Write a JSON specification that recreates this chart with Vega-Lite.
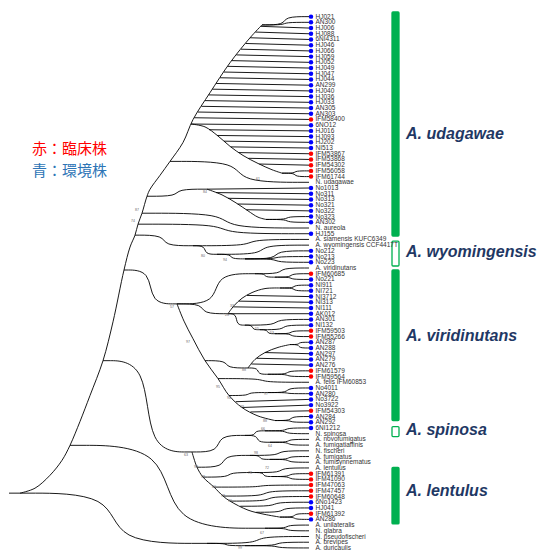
{
"$schema": "https://vega.github.io/schema/vega-lite/v6.json",
"width": 539, "height": 552,
"autosize": {"type": "fit", "contains": "padding"},
"padding": 0,
"background": "white",
"config": {"view": {"stroke": null}},
"datasets": {
"edges": [
{"e":1,"xs":[262,284.5,284.5,309],"ys":[2.45,2.45,1,1]},
{"e":2,"xs":[262,284.5,284.5,309],"ys":[2.45,2.45,2,2]},
{"e":3,"xs":[260.7,309],"ys":[2.7,3]},
{"e":4,"xs":[255.4,309],"ys":[3.7,4]},
{"e":5,"xs":[250,309],"ys":[4.7,5]},
{"e":6,"xs":[245.5,309],"ys":[5.7,6]},
{"e":7,"xs":[240.9,309],"ys":[6.7,7]},
{"e":8,"xs":[236.3,309],"ys":[7.7,8]},
{"e":9,"xs":[231.7,309],"ys":[8.7,9]},
{"e":10,"xs":[227.6,309],"ys":[9.7,10]},
{"e":11,"xs":[223.8,309],"ys":[10.7,11]},
{"e":12,"xs":[220,309],"ys":[11.7,12]},
{"e":13,"xs":[216.1,309],"ys":[12.7,13]},
{"e":14,"xs":[212.3,309],"ys":[13.7,14]},
{"e":15,"xs":[208.6,309],"ys":[14.7,15]},
{"e":16,"xs":[205,309],"ys":[15.7,16]},
{"e":17,"xs":[201.4,309],"ys":[16.7,17]},
{"e":18,"xs":[197.8,309],"ys":[17.7,18]},
{"e":19,"xs":[194.2,309],"ys":[18.7,19]},
{"e":20,"xs":[191,309],"ys":[19.8,20]},
{"e":21,"xs":[209,309],"ys":[20.8,21]},
{"e":22,"xs":[217.2,309],"ys":[21.8,22]},
{"e":23,"xs":[224,309],"ys":[22.8,23]},
{"e":24,"xs":[230.8,309],"ys":[23.8,24]},
{"e":25,"xs":[238.9,309],"ys":[24.8,25]},
{"e":26,"xs":[248.4,309],"ys":[25.8,26]},
{"e":27,"xs":[259.3,309],"ys":[26.8,27]},
{"e":28,"xs":[282,295,295,309],"ys":[28.4,28.4,28,28]},
{"e":29,"xs":[282,295,295,309],"ys":[28.4,28.4,29,29]},
{"e":30,"xs":[170,238.5,238.5,309],"ys":[26.34,26.34,30,30]},
{"e":31,"xs":[147,177,177,207],"ys":[32.44,32.44,31.2,31.2]},
{"e":32,"xs":[207,309],"ys":[31.2,31]},
{"e":33,"xs":[216,309],"ys":[31.8,32]},
{"e":34,"xs":[228,309],"ys":[32.8,33]},
{"e":35,"xs":[237.7,309],"ys":[33.8,34]},
{"e":36,"xs":[246.3,309],"ys":[34.8,35]},
{"e":37,"xs":[266,287,287,309],"ys":[36.5,36.5,36,36]},
{"e":38,"xs":[266,287,287,309],"ys":[36.5,36.5,37,37]},
{"e":39,"xs":[142,225,225,309],"ys":[35.41,35.41,38,38]},
{"e":40,"xs":[138,223,223,309],"ys":[37.33,37.33,39,39]},
{"e":41,"xs":[135,164,164,193],"ys":[39.25,39.25,41.1,41.1]},
{"e":42,"xs":[193,250,250,309],"ys":[41.1,41.1,40,40]},
{"e":43,"xs":[193,205,205,217],"ys":[41.1,41.1,42.6,42.6]},
{"e":44,"xs":[217,262,262,309],"ys":[42.6,42.6,41,41]},
{"e":45,"xs":[217,231,231,245],"ys":[42.6,42.6,43.4,43.4]},
{"e":46,"xs":[245,276,276,309],"ys":[43.4,43.4,42,42]},
{"e":47,"xs":[245,276,276,309],"ys":[43.4,43.4,43,43]},
{"e":48,"xs":[245,276,276,309],"ys":[43.4,43.4,44,44]},
{"e":49,"xs":[124,150.5,150.5,177],"ys":[45.35,45.35,51.28,51.28]},
{"e":50,"xs":[177,216,216,255],"ys":[51.28,51.28,46,46]},
{"e":51,"xs":[255,281,281,309],"ys":[46,46,45,45]},
{"e":52,"xs":[255,265,265,275],"ys":[46,46,46.6,46.6]},
{"e":53,"xs":[275,291,291,309],"ys":[46.6,46.6,46,46]},
{"e":54,"xs":[275,291,291,309],"ys":[46.6,46.6,47,47]},
{"e":55,"xs":[177,202.5,202.5,228],"ys":[51.28,51.28,53,53]},
{"e":56,"xs":[280,294,294,309],"ys":[48.5,48.5,48,48]},
{"e":57,"xs":[280,294,294,309],"ys":[48.5,48.5,49,49]},
{"e":58,"xs":[247,309],"ys":[49.8,50]},
{"e":59,"xs":[238.9,309],"ys":[50.8,51]},
{"e":60,"xs":[233.1,309],"ys":[51.8,52]},
{"e":61,"xs":[228,309],"ys":[53,53]},
{"e":62,"xs":[228,236.5,236.5,245],"ys":[53,53,55,55]},
{"e":63,"xs":[245,276,276,309],"ys":[55,55,54,54]},
{"e":64,"xs":[245,252.5,252.5,260],"ys":[55,55,55.8,55.8]},
{"e":65,"xs":[260,283.5,283.5,309],"ys":[55.8,55.8,55,55]},
{"e":66,"xs":[260,267.5,267.5,275],"ys":[55.8,55.8,56.5,56.5]},
{"e":67,"xs":[275,291,291,309],"ys":[56.5,56.5,56,56]},
{"e":68,"xs":[275,291,291,309],"ys":[56.5,56.5,57,57]},
{"e":69,"xs":[205,226.5,226.5,248],"ys":[61.22,61.22,62.5,62.5]},
{"e":70,"xs":[290,299,299,309],"ys":[58.4,58.4,58,58]},
{"e":71,"xs":[290,299,299,309],"ys":[58.4,58.4,59,59]},
{"e":72,"xs":[265,309],"ys":[59.8,60]},
{"e":73,"xs":[256.7,309],"ys":[60.8,61]},
{"e":74,"xs":[251.3,309],"ys":[61.8,62]},
{"e":75,"xs":[248,258,258,268],"ys":[62.5,62.5,63.6,63.6]},
{"e":76,"xs":[268,287.5,287.5,309],"ys":[63.6,63.6,63,63]},
{"e":77,"xs":[268,287.5,287.5,309],"ys":[63.6,63.6,64,64]},
{"e":78,"xs":[218,262.5,262.5,309],"ys":[64.36,64.36,65,65]},
{"e":79,"xs":[229,248.5,248.5,268],"ys":[67.32,67.32,66.8,66.8]},
{"e":80,"xs":[268,287.5,287.5,309],"ys":[66.8,66.8,66,66]},
{"e":81,"xs":[268,287.5,287.5,309],"ys":[66.8,66.8,67,67]},
{"e":82,"xs":[235.7,309],"ys":[68.4,68]},
{"e":83,"xs":[242,309],"ys":[69.42,69]},
{"e":84,"xs":[250.4,309],"ys":[70.2,70]},
{"e":85,"xs":[275,291,291,309],"ys":[71.7,71.7,71,71]},
{"e":86,"xs":[275,291,291,309],"ys":[71.7,71.7,72,72]},
{"e":87,"xs":[103,147.5,147.5,192],"ys":[61.22,61.22,77.2,77.2]},
{"e":88,"xs":[192,218.5,218.5,245],"ys":[77.2,77.2,74.3,74.3]},
{"e":89,"xs":[245,255,255,265],"ys":[74.3,74.3,73.5,73.5]},
{"e":90,"xs":[265,286,286,309],"ys":[73.5,73.5,73,73]},
{"e":91,"xs":[265,286,286,309],"ys":[73.5,73.5,74,74]},
{"e":92,"xs":[245,257.5,257.5,270],"ys":[74.3,74.3,75.5,75.5]},
{"e":93,"xs":[270,288.5,288.5,309],"ys":[75.5,75.5,75,75]},
{"e":94,"xs":[270,288.5,288.5,309],"ys":[75.5,75.5,76,76]},
{"e":95,"xs":[197,223.5,223.5,250],"ys":[79.87,79.87,77.8,77.8]},
{"e":96,"xs":[250,279,279,309],"ys":[77.8,77.8,77,77]},
{"e":97,"xs":[250,260,260,270],"ys":[77.8,77.8,78.5,78.5]},
{"e":98,"xs":[270,288.5,288.5,309],"ys":[78.5,78.5,78,78]},
{"e":99,"xs":[270,288.5,288.5,309],"ys":[78.5,78.5,79,79]},
{"e":100,"xs":[203,229,229,255],"ys":[81.6,81.6,80.8,80.8]},
{"e":101,"xs":[255,281,281,309],"ys":[80.8,80.8,80,80]},
{"e":102,"xs":[255,263.5,263.5,272],"ys":[80.8,80.8,81.5,81.5]},
{"e":103,"xs":[272,289.5,289.5,309],"ys":[81.5,81.5,81,81]},
{"e":104,"xs":[272,289.5,289.5,309],"ys":[81.5,81.5,82,82]},
{"e":105,"xs":[214,260.5,260.5,309],"ys":[83.35,83.35,83,83]},
{"e":106,"xs":[223,265,265,309],"ys":[84.92,84.92,84,84]},
{"e":107,"xs":[230,268.5,268.5,309],"ys":[85.8,85.8,85,85]},
{"e":108,"xs":[240.3,274.5,274.5,309],"ys":[86.7,86.7,86,86]},
{"e":109,"xs":[256.2,282.5,282.5,309],"ys":[87.75,87.75,87,87]},
{"e":110,"xs":[280,294.5,294.5,309],"ys":[88.6,88.6,88,88]},
{"e":111,"xs":[280,294.5,294.5,309],"ys":[88.6,88.6,89,89]},
{"e":112,"xs":[70,167.5,167.5,265],"ys":[76.04,76.04,90.55,90.55]},
{"e":113,"xs":[265,287,287,309],"ys":[90.55,90.55,90,90]},
{"e":114,"xs":[265,287,287,309],"ys":[90.55,90.55,91,91]},
{"e":115,"xs":[20,113.5,113.5,207],"ys":[84.41,84.41,93.2,93.2]},
{"e":116,"xs":[207,258,258,309],"ys":[93.2,93.2,92,92]},
{"e":117,"xs":[207,226,226,245],"ys":[93.2,93.2,93.6,93.6]},
{"e":118,"xs":[245,277,277,309],"ys":[93.6,93.6,93,93]},
{"e":119,"xs":[245,277,277,309],"ys":[93.6,93.6,94,94]},
{"e":120,"xs":[9,20],"ys":[84.41,84.41]}
],
"arcs": [
{"a":"main","xs":[20,35,50,62,70,80,90,103,113,124,130,135,138,142,147,150,160,170,183,193,210,230,250,262],"ys":[84.41,83.54,81.28,78.66,76.04,71.86,67.32,61.22,54.42,45.35,41.34,39.25,37.33,35.41,32.44,31.22,28.78,26.34,23.03,19.02,14.31,9.07,4.71,2.45]},
{"a":"s1","xs":[191,205,218,230,243,258,272,282],"ys":[19.8,20.3,21.9,23.7,25.3,26.7,27.8,28.4]},
{"a":"s2","xs":[207,222,236,248,258,266],"ys":[31.2,32.2,33.6,35.0,36.1,36.5]},
{"a":"va2","xs":[228,234,242,252,265,280],"ys":[53.0,51.6,50.3,49.3,48.6,48.5]},
{"a":"vc","xs":[248,255,265,278,290],"ys":[62.5,61.0,59.8,58.9,58.4]},
{"a":"varc","xs":[177,184,193,205,218,229,242,258,275],"ys":[51.28,54.3,57.38,61.22,64.36,67.32,69.42,70.9,71.7]},
{"a":"farc","xs":[192,197,203,214,223,230,248,264,280],"ys":[77.2,79.87,81.6,83.35,84.92,85.8,87.38,88.1,88.6]}
],
"leaves": [
{"y":1,"n":"HJ021","t":"e"},{"y":2,"n":"AN300","t":"e"},{"y":3,"n":"HJ006","t":"e"},{"y":4,"n":"HJ088","t":"e"},
{"y":5,"n":"6NI4311","t":"e"},{"y":6,"n":"HJ046","t":"e"},{"y":7,"n":"HJ066","t":"e"},{"y":8,"n":"HJ059","t":"e"},
{"y":9,"n":"HJ052","t":"e"},{"y":10,"n":"HJ049","t":"e"},{"y":11,"n":"HJ047","t":"e"},{"y":12,"n":"HJ044","t":"e"},
{"y":13,"n":"AN299","t":"e"},{"y":14,"n":"HJ040","t":"e"},{"y":15,"n":"HJ036","t":"e"},{"y":16,"n":"HJ033","t":"e"},
{"y":17,"n":"AN305","t":"e"},{"y":18,"n":"AN303","t":"e"},{"y":19,"n":"IFM58400","t":"c"},{"y":20,"n":"6NO12","t":"e"},
{"y":21,"n":"HJ016","t":"e"},{"y":22,"n":"HJ093","t":"e"},{"y":23,"n":"HJ202","t":"e"},{"y":24,"n":"NI513","t":"e"},
{"y":25,"n":"IFM53867","t":"c"},{"y":26,"n":"IFM53868","t":"c"},{"y":27,"n":"IFM54302","t":"c"},{"y":28,"n":"IFM56058","t":"c"},
{"y":29,"n":"IFM61744","t":"c"},{"y":30,"n":"N. udagawae","t":"r"},{"y":31,"n":"No1013","t":"e"},{"y":32,"n":"No311","t":"e"},
{"y":33,"n":"No313","t":"e"},{"y":34,"n":"No321","t":"e"},{"y":35,"n":"No322","t":"e"},{"y":36,"n":"No323","t":"e"},
{"y":37,"n":"AN302","t":"e"},{"y":38,"n":"N. aureola","t":"r"},{"y":39,"n":"HJ155","t":"e"},{"y":40,"n":"A. siamensis KUFC6349","t":"r"},
{"y":41,"n":"A. wyomingensis CCF4417T","t":"r"},{"y":42,"n":"No212","t":"e"},{"y":43,"n":"No213","t":"e"},{"y":44,"n":"No223","t":"e"},
{"y":45,"n":"A. viridinutans","t":"r"},{"y":46,"n":"IFM60685","t":"c"},{"y":47,"n":"No221","t":"e"},{"y":48,"n":"NI911","t":"e"},
{"y":49,"n":"NI721","t":"e"},{"y":50,"n":"NI3712","t":"e"},{"y":51,"n":"NI313","t":"e"},{"y":52,"n":"NI111","t":"e"},
{"y":53,"n":"AK012","t":"e"},{"y":54,"n":"AN301","t":"e"},{"y":55,"n":"NI132","t":"e"},{"y":56,"n":"IFM59503","t":"c"},
{"y":57,"n":"IFM55266","t":"c"},{"y":58,"n":"AN287","t":"e"},{"y":59,"n":"AN288","t":"e"},{"y":60,"n":"AN297","t":"e"},
{"y":61,"n":"AN279","t":"e"},{"y":62,"n":"AN276","t":"e"},{"y":63,"n":"IFM61579","t":"c"},{"y":64,"n":"IFM59564","t":"c"},
{"y":65,"n":"A. felis IFM60853","t":"r"},{"y":66,"n":"No4011","t":"e"},{"y":67,"n":"AN280","t":"e"},{"y":68,"n":"No3722","t":"e"},
{"y":69,"n":"No3922","t":"e"},{"y":70,"n":"IFM54303","t":"c"},{"y":71,"n":"AN284","t":"e"},{"y":72,"n":"AN292","t":"e"},
{"y":73,"n":"6NI1212","t":"e"},{"y":74,"n":"N. spinosa","t":"r"},{"y":75,"n":"A. novofumigatus","t":"r"},{"y":76,"n":"A. fumigatiaffinis","t":"r"},
{"y":77,"n":"N. fischeri","t":"r"},{"y":78,"n":"A. fumigatus","t":"r"},{"y":79,"n":"A. fumisynnematus","t":"r"},{"y":80,"n":"A. lentulus","t":"r"},
{"y":81,"n":"IFM61391","t":"c"},{"y":82,"n":"IFM41090","t":"c"},{"y":83,"n":"IFM47063","t":"c"},{"y":84,"n":"IFM47457","t":"c"},
{"y":85,"n":"IFM60648","t":"c"},{"y":86,"n":"6No1423","t":"e"},{"y":87,"n":"HJ041","t":"e"},{"y":88,"n":"IFM61392","t":"c"},
{"y":89,"n":"AN286","t":"e"},{"y":90,"n":"A. unilateralis","t":"r"},{"y":91,"n":"N. glabra","t":"r"},{"y":92,"n":"N. pseudofischeri","t":"r"},
{"y":93,"n":"A. brevipes","t":"r"},{"y":94,"n":"A. duricaulis","t":"r"}
],
"clades": [
{"name":"A. udagawae","y1":0.18,"y2":39.4,"ym":21.6,"k":"s"},
{"name":"A. wyomingensis","y1":40.3,"y2":44.65,"ym":42.2,"k":"h"},
{"name":"A. viridinutans","y1":45.35,"y2":71.7,"ym":56.9,"k":"s"},
{"name":"A. spinosa","y1":72.75,"y2":74.5,"ym":73.4,"k":"h"},
{"name":"A. lentulus","y1":79.9,"y2":89.8,"ym":84.1,"k":"s"}
],
"boots": [
{"b":"87","x":137,"y":34.9},{"b":"74","x":133,"y":36.8},{"b":"61","x":258,"y":29.5},{"b":"84","x":205,"y":31.75},
{"b":"80","x":203,"y":42.9},{"b":"94","x":225,"y":43.6},{"b":"57","x":172,"y":51.8},{"b":"33","x":232,"y":51.6},
{"b":"28","x":227,"y":53.2},{"b":"55","x":257,"y":55.6},{"b":"53","x":272,"y":56.3},{"b":"97","x":188,"y":57.9},
{"b":"88","x":244,"y":62.8},{"b":"95","x":218,"y":65.75},{"b":"94","x":229,"y":67.7},{"b":"99","x":242,"y":69.4},
{"b":"97","x":266,"y":67.0},{"b":"88","x":265,"y":71.7},{"b":"63","x":186,"y":77.8},{"b":"66","x":263,"y":73.1},
{"b":"64","x":270,"y":76.2},{"b":"98","x":256,"y":77.3},{"b":"72","x":267,"y":80.05},{"b":"78","x":250,"y":80.9},
{"b":"98","x":196,"y":79.9},{"b":"99","x":203,"y":81.6},{"b":"80","x":214,"y":83.35},{"b":"78","x":223,"y":84.9},
{"b":"76","x":230,"y":85.8},{"b":"67","x":262,"y":91.4},{"b":"99","x":240,"y":94.0}
]
},
"layer": [
{
"data": {"name": "clades"},
"mark": {"type": "rect", "stroke": "#00b050", "strokeWidth": 1.3, "cornerRadius": 1},
"encoding": {
"x": {"datum": 392, "type": "quantitative", "scale": {"domain": [0, 539], "nice": false, "zero": false}, "axis": null},
"x2": {"datum": 399},
"y": {"field": "y1", "type": "quantitative", "scale": {"domain": [-1.91, 94.36], "reverse": true, "nice": false, "zero": false}, "axis": null},
"y2": {"field": "y2"},
"fill": {"field": "k", "type": "nominal", "scale": {"domain": ["s", "h"], "range": ["#00b050", "#ffffff"]}, "legend": null}
}
},
{
"data": {"name": "arcs"},
"transform": [{"flatten": ["xs", "ys"], "as": ["x", "y"]}],
"mark": {"type": "line", "interpolate": "catmull-rom", "color": "#000000", "strokeWidth": 0.9},
"encoding": {
"x": {"field": "x", "type": "quantitative", "scale": {"domain": [0, 539], "nice": false, "zero": false}, "axis": null},
"y": {"field": "y", "type": "quantitative", "scale": {"domain": [-1.91, 94.36], "reverse": true, "nice": false, "zero": false}, "axis": null},
"detail": {"field": "a"},
"order": {"value": null}
}
},
{
"data": {"name": "edges"},
"transform": [{"flatten": ["xs", "ys"], "as": ["x", "y"]}],
"mark": {"type": "line", "interpolate": "basis", "color": "#000000", "strokeWidth": 0.9},
"encoding": {
"x": {"field": "x", "type": "quantitative", "scale": {"domain": [0, 539], "nice": false, "zero": false}, "axis": null},
"y": {"field": "y", "type": "quantitative", "scale": {"domain": [-1.91, 94.36], "reverse": true, "nice": false, "zero": false}, "axis": null},
"detail": {"field": "e"},
"order": {"value": null}
}
},
{
"data": {"name": "leaves"},
"transform": [{"filter": "datum.t !== 'r'"}],
"mark": {"type": "point", "filled": true, "shape": "circle", "size": 20, "opacity": 1},
"encoding": {
"x": {"datum": 311, "type": "quantitative", "scale": {"domain": [0, 539], "nice": false, "zero": false}, "axis": null},
"y": {"field": "y", "type": "quantitative", "scale": {"domain": [-1.91, 94.36], "reverse": true, "nice": false, "zero": false}, "axis": null},
"color": {"field": "t", "type": "nominal", "scale": {"domain": ["c", "e"], "range": ["#ff0000", "#0000ff"]}, "legend": null}
}
},
{
"data": {"name": "leaves"},
"mark": {"type": "text", "align": "left", "baseline": "middle", "fontSize": 6.5, "font": "Liberation Sans", "color": "#333333"},
"encoding": {
"x": {"datum": 315.5, "type": "quantitative", "scale": {"domain": [0, 539], "nice": false, "zero": false}, "axis": null},
"y": {"field": "y", "type": "quantitative", "scale": {"domain": [-1.91, 94.36], "reverse": true, "nice": false, "zero": false}, "axis": null},
"text": {"field": "n"}
}
},
{
"data": {"name": "boots"},
"mark": {"type": "text", "align": "center", "baseline": "middle", "fontSize": 3.5, "font": "Liberation Sans", "color": "#666666"},
"encoding": {
"x": {"field": "x", "type": "quantitative", "scale": {"domain": [0, 539], "nice": false, "zero": false}, "axis": null},
"y": {"field": "y", "type": "quantitative", "scale": {"domain": [-1.91, 94.36], "reverse": true, "nice": false, "zero": false}, "axis": null},
"text": {"field": "b"}
}
},
{
"data": {"name": "clades"},
"mark": {"type": "text", "align": "left", "baseline": "middle", "fontSize": 16, "font": "Liberation Sans", "fontWeight": "bold", "fontStyle": "italic", "color": "#1f3864"},
"encoding": {
"x": {"datum": 406, "type": "quantitative", "scale": {"domain": [0, 539], "nice": false, "zero": false}, "axis": null},
"y": {"field": "ym", "type": "quantitative", "scale": {"domain": [-1.91, 94.36], "reverse": true, "nice": false, "zero": false}, "axis": null},
"text": {"field": "name"}
}
},
{
"data": {"values": [{"label": "赤：臨床株"}]},
"mark": {"type": "text", "align": "left", "baseline": "middle", "fontSize": 15, "font": "Noto Sans CJK JP", "color": "#ff0000"},
"encoding": {
"x": {"datum": 32, "type": "quantitative", "scale": {"domain": [0, 539], "nice": false, "zero": false}, "axis": null},
"y": {"datum": 24.2, "type": "quantitative", "scale": {"domain": [-1.91, 94.36], "reverse": true, "nice": false, "zero": false}, "axis": null},
"text": {"field": "label"}
}
},
{
"data": {"values": [{"label": "青：環境株"}]},
"mark": {"type": "text", "align": "left", "baseline": "middle", "fontSize": 15, "font": "Noto Sans CJK JP", "color": "#2e75b6"},
"encoding": {
"x": {"datum": 32, "type": "quantitative", "scale": {"domain": [0, 539], "nice": false, "zero": false}, "axis": null},
"y": {"datum": 28.1, "type": "quantitative", "scale": {"domain": [-1.91, 94.36], "reverse": true, "nice": false, "zero": false}, "axis": null},
"text": {"field": "label"}
}
}
]
}
